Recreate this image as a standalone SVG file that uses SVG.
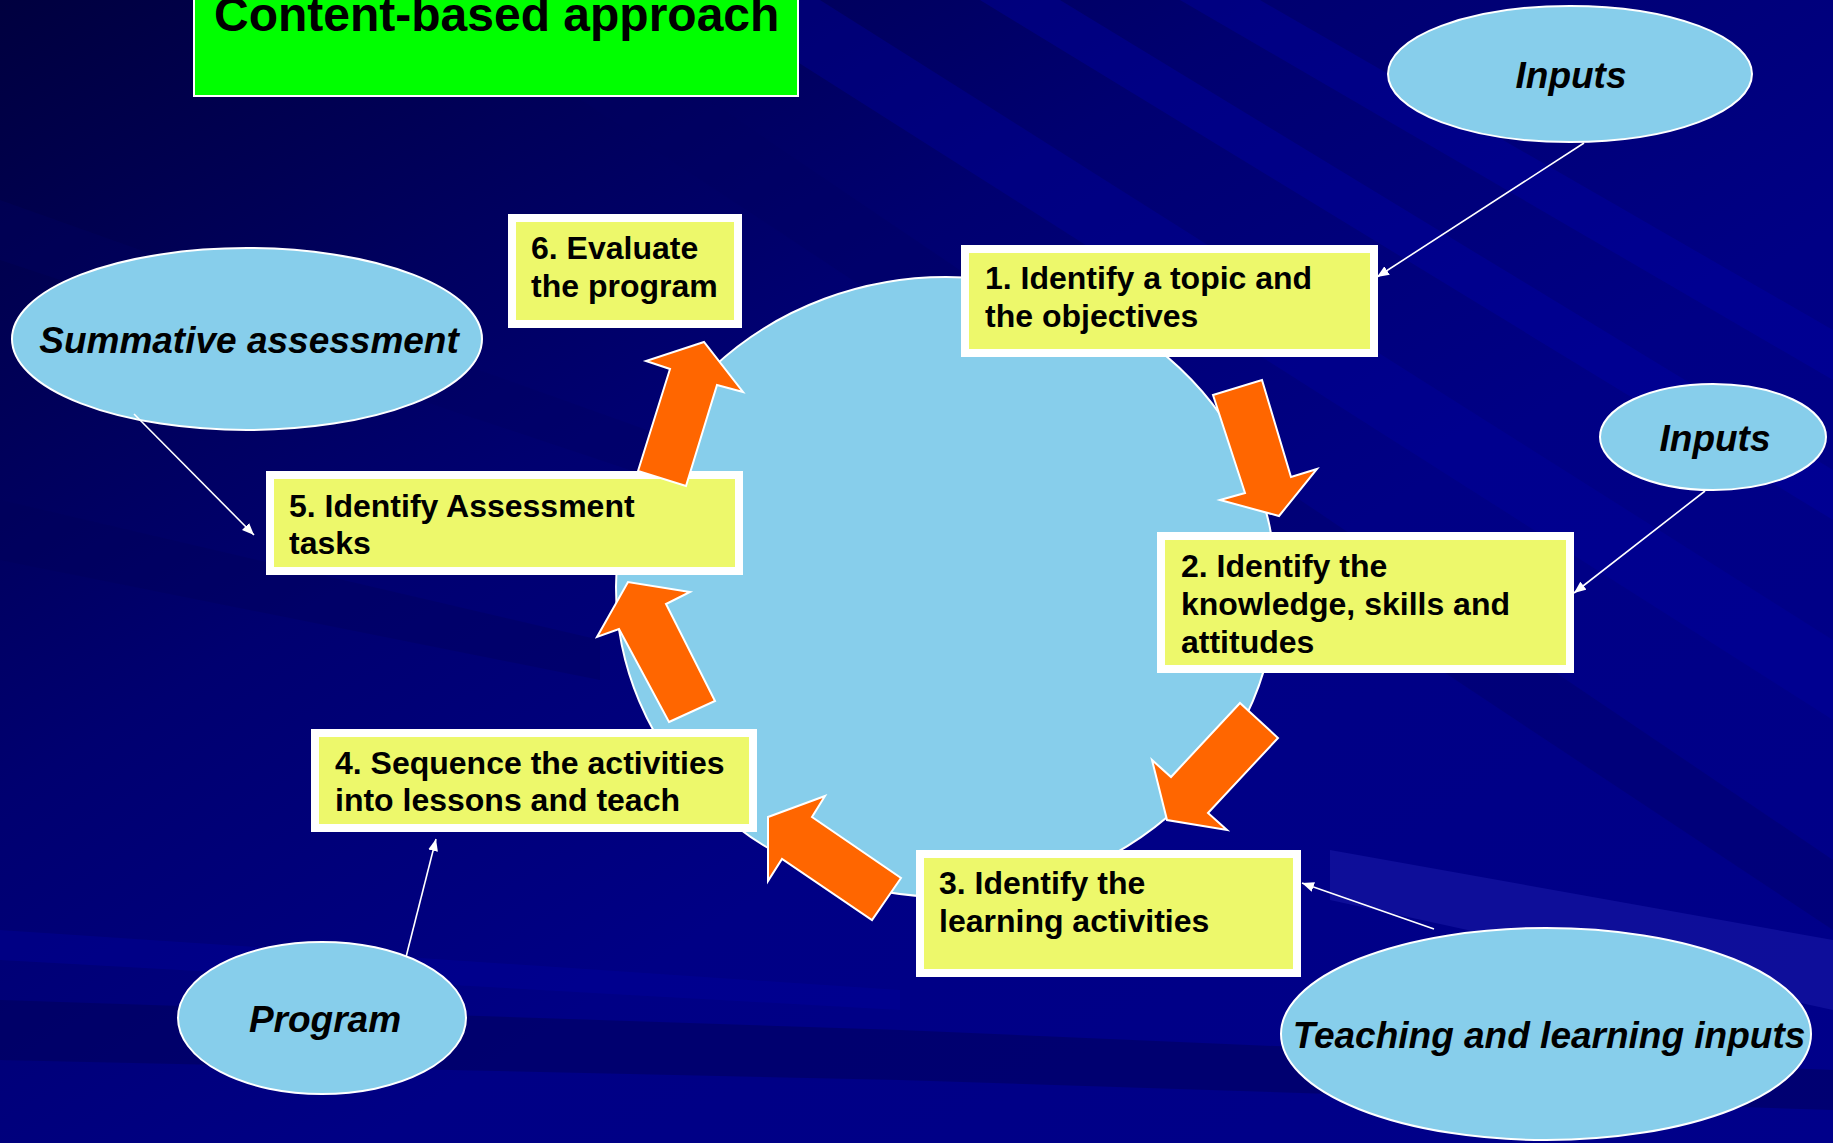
<svg xmlns="http://www.w3.org/2000/svg" width="1833" height="1143" viewBox="0 0 1833 1143">
<defs>
<linearGradient id="bg" x1="0" y1="0" x2="1" y2="1">
<stop offset="0" stop-color="#00003f"/>
<stop offset="0.35" stop-color="#000070"/>
<stop offset="0.6" stop-color="#000085"/>
<stop offset="1" stop-color="#00008a"/>
</linearGradient>
<marker id="ah" viewBox="0 0 12 10" refX="12" refY="5" markerWidth="12" markerHeight="10" markerUnits="userSpaceOnUse" orient="auto">
<path d="M0,0 L12,5 L0,10 Z" fill="#ffffff"/>
</marker>
<style>
.ell{fill:#87CEEB;stroke:#ffffff;stroke-width:2}
.outer{fill:#ffffff}
.inner{fill:#EDF86B}
.bt{font-family:"Liberation Sans",Arial,sans-serif;font-weight:bold;font-size:32px;fill:#000000}
.et{font-family:"Liberation Sans",Arial,sans-serif;font-weight:bold;font-style:italic;font-size:37px;fill:#000000;text-anchor:middle}
.conn{stroke:#ffffff;stroke-width:1.6;fill:none}
.barrow{fill:#FF6600;stroke:#ffffff;stroke-width:2;stroke-linejoin:miter}
</style>
</defs>

<!-- background -->
<rect x="0" y="0" width="1833" height="1143" fill="url(#bg)"/>
<g opacity="1">
<polygon points="700,0 820,0 1833,640 1833,720" fill="#0000a0" opacity="0.35"/>
<polygon points="980,0 1060,0 1833,470 1833,520" fill="#0000a8" opacity="0.35"/>
<polygon points="1180,0 1260,0 1833,330 1833,380" fill="#0000b0" opacity="0.3"/>
<polygon points="430,0 560,0 1833,860 1833,930" fill="#000060" opacity="0.35"/>
<polygon points="0,200 0,260 900,560 900,520" fill="#000060" opacity="0.35"/>
<polygon points="1330,850 1833,940 1833,1010 1330,900" fill="#2020b0" opacity="0.45"/>
<polygon points="0,1000 900,1030 1833,1070 1833,1110 900,1080 0,1060" fill="#000055" opacity="0.45"/>
<polygon points="0,930 900,990 900,1010 0,960" fill="#0000a0" opacity="0.35"/>
<polygon points="0,500 600,640 600,680 0,560" fill="#00005a" opacity="0.35"/>
</g>

<!-- title -->
<g id="title">
<rect x="194" y="-4" width="604" height="100" fill="#00FF00" stroke="#ffffff" stroke-width="2"/>
<text x="214" y="31" font-family="'Liberation Sans',Arial,sans-serif" font-weight="bold" font-size="48" fill="#000000">Content-based approach</text>
</g>

<!-- central circle -->
<g id="cycle">
<ellipse cx="946" cy="587" rx="330" ry="310" class="ell" stroke-width="1.5"/>
</g>

<!-- ellipse nodes -->
<g id="inputs-top">
<ellipse cx="1570" cy="74" rx="182" ry="68" class="ell"/>
<text x="1571" y="88" class="et">Inputs</text>
</g>
<g id="inputs-right">
<ellipse cx="1713" cy="437" rx="113" ry="53" class="ell"/>
<text x="1715" y="451" class="et">Inputs</text>
</g>
<g id="summative">
<ellipse cx="247" cy="339" rx="235" ry="91" class="ell"/>
<text x="249" y="353" class="et">Summative assessment</text>
</g>
<g id="program">
<ellipse cx="322" cy="1018" rx="144" ry="76" class="ell"/>
<text x="325" y="1032" class="et">Program</text>
</g>
<g id="teaching">
<ellipse cx="1546" cy="1034" rx="265" ry="106" class="ell"/>
<text x="1549" y="1048" class="et">Teaching and learning inputs</text>
</g>

<!-- step boxes -->
<g id="step1">
<rect x="961" y="245" width="417" height="112" class="outer"/>
<rect x="969" y="253" width="401" height="96" class="inner"/>
<text class="bt"><tspan x="985" y="289">1. Identify a topic and</tspan><tspan x="985" y="327">the objectives</tspan></text>
</g>
<g id="step2">
<rect x="1157" y="532" width="417" height="141" class="outer"/>
<rect x="1165" y="540" width="401" height="125" class="inner"/>
<text class="bt"><tspan x="1181" y="577">2. Identify the</tspan><tspan x="1181" y="615">knowledge, skills and</tspan><tspan x="1181" y="653">attitudes</tspan></text>
</g>
<g id="step3">
<rect x="916" y="850" width="385" height="127" class="outer"/>
<rect x="924" y="858" width="369" height="111" class="inner"/>
<text class="bt"><tspan x="939" y="894">3. Identify the</tspan><tspan x="939" y="932">learning activities</tspan></text>
</g>
<g id="step4">
<rect x="311" y="729" width="446" height="103" class="outer"/>
<rect x="319" y="737" width="430" height="87" class="inner"/>
<text class="bt"><tspan x="335" y="774">4. Sequence the activities</tspan><tspan x="335" y="811">into lessons and teach</tspan></text>
</g>
<g id="step5">
<rect x="266" y="471" width="477" height="104" class="outer"/>
<rect x="274" y="479" width="461" height="88" class="inner"/>
<text class="bt"><tspan x="289" y="517">5. Identify Assessment</tspan><tspan x="289" y="554">tasks</tspan></text>
</g>
<g id="step6">
<rect x="508" y="214" width="234" height="114" class="outer"/>
<rect x="516" y="222" width="218" height="98" class="inner"/>
<text class="bt"><tspan x="531" y="259">6. Evaluate</tspan><tspan x="531" y="297">the program</tspan></text>
</g>

<!-- cycle block arrows -->
<g id="cycle-arrows">
<polygon class="barrow" points="1213,395 1262,380 1291,477 1317,469 1279,516 1220,500 1245,493"/>
<polygon class="barrow" points="1240,703 1278,738 1208,813 1227,830 1167,820 1152,760 1171,777"/>
<polygon class="barrow" points="901,878 872,920 782,859 768,881 768,817 825,796 812,817"/>
<polygon class="barrow" points="669,722 715,701 666,604 690,592 628,582 597,637 619,629"/>
<polygon class="barrow" points="638,471 686,486 717,385 743,392 704,342 646,361 670,369"/>
</g>

<!-- connectors -->
<g id="connectors">
<line class="conn" x1="1584" y1="143" x2="1377" y2="277" marker-end="url(#ah)"/>
<line class="conn" x1="1705" y1="491" x2="1574" y2="593" marker-end="url(#ah)"/>
<line class="conn" x1="1434" y1="929" x2="1302" y2="883" marker-end="url(#ah)"/>
<line class="conn" x1="406" y1="957" x2="436" y2="839" marker-end="url(#ah)"/>
<line class="conn" x1="134" y1="414" x2="254" y2="535" marker-end="url(#ah)"/>
</g>
</svg>
